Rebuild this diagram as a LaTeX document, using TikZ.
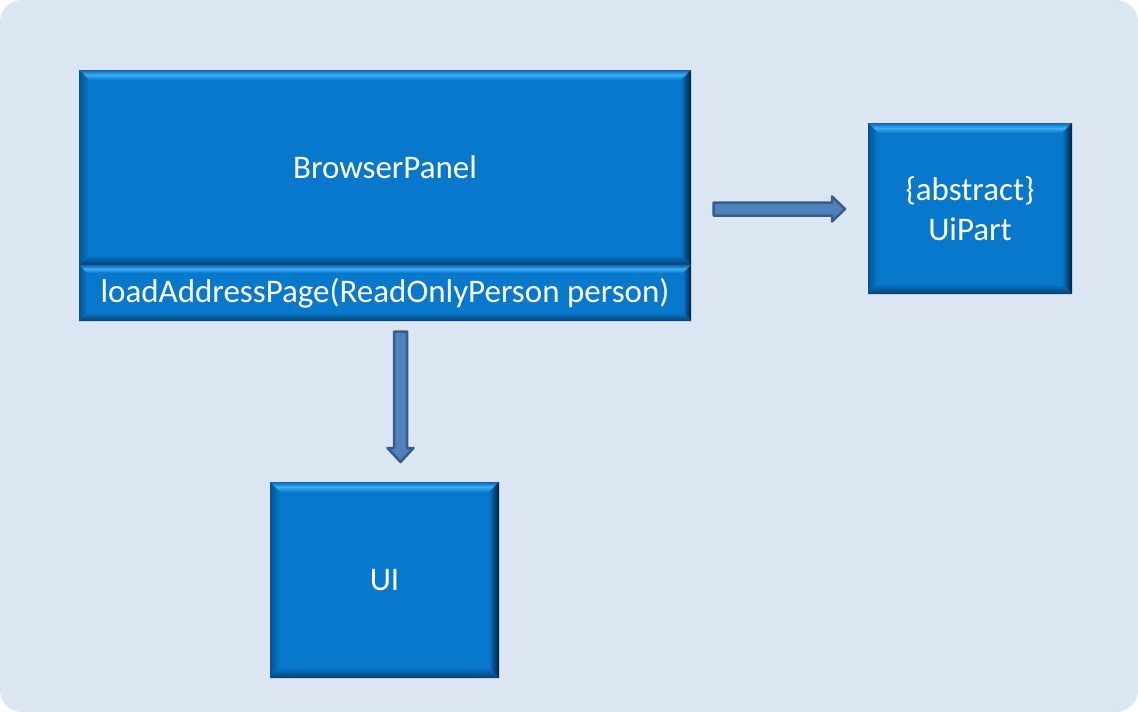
\documentclass[tikz,border=0pt]{standalone}
\usepackage{fontspec}
\setmainfont{Carlito}
\usetikzlibrary{calc}
\definecolor{bgc}{HTML}{DCE6F2}
\definecolor{boxblue}{HTML}{0778CC}
\definecolor{bvtopedge}{HTML}{0A68B4}
\definecolor{bvtoplight}{HTML}{3CACF4}
\definecolor{bvleft}{HTML}{05548F}
\definecolor{bvright}{HTML}{031F3A}
\definecolor{bvbottom}{HTML}{04406F}
\definecolor{arrfill}{HTML}{4F81BD}
\definecolor{arrline}{HTML}{385D8A}
\newcommand\mybevel[2]{%
  \shade[top color=bvtopedge, bottom color=boxblue, middle color=bvtoplight]
    (#1.north west) -- (#1.north east) -- ($(#1.north east)+(-#2,#2)$) -- ($(#1.north west)+(#2,#2)$) -- cycle;
  \shade[left color=bvleft, right color=boxblue]
    (#1.north west) -- ($(#1.north west)+(#2,#2)$) -- ($(#1.south west)+(#2,-#2)$) -- (#1.south west) -- cycle;
  \shade[left color=boxblue, right color=bvright]
    (#1.north east) -- (#1.south east) -- ($(#1.south east)+(-#2,-#2)$) -- ($(#1.north east)+(-#2,#2)$) -- cycle;
  \shade[top color=boxblue, bottom color=bvbottom]
    (#1.south west) -- (#1.south east) -- ($(#1.south east)+(-#2,-#2)$) -- ($(#1.south west)+(#2,-#2)$) -- cycle;
}
\begin{document}
\begin{tikzpicture}[x=1pt,y=-1pt,
  umlbox/.style={rectangle, fill=boxblue, inner sep=0pt, outer sep=0pt,
    text=white, font=\fontsize{33}{40}\selectfont, align=center},
  blockarrow/.style={fill=arrfill, draw=arrline, line width=2.5pt, line join=round}]
\fill[white] (0,0) rectangle (1138,712);
\useasboundingbox (0,0) rectangle (1138,712);
\fill[bgc, rounded corners=22pt] (0,0) rectangle (1138,712);

\node[umlbox, minimum width=612pt, minimum height=195pt] (bp) at (385,167.5) {};
\node[umlbox, minimum width=612pt, minimum height=56pt] (bpm) at (385,293) {};
\node[umlbox, minimum width=204pt, minimum height=171pt] (uip) at (970,208.5) {};
\node[umlbox, minimum width=229pt, minimum height=196pt] (ui) at (384.5,580) {};

\mybevel{bp}{10}
\mybevel{bpm}{8}
\mybevel{uip}{10}
\mybevel{ui}{10}

\node[umlbox, fill=none] (bpt) at (bp.center) {BrowserPanel};
\node[umlbox, fill=none] (bpmt) at (bpm.center) {loadAddressPage(ReadOnlyPerson person)};
\node[umlbox, fill=none] (uipt) at (uip.center) {\{abstract\}\\UiPart};
\node[umlbox, fill=none] (uit) at (ui.center) {UI};

% right arrow from BrowserPanel to UiPart
\coordinate (a1s) at ($(bp.east)!0!(uip.west) + (22.5,41.5)$);
\coordinate (a1e) at ($(uip.west |- a1s) + (-23,0)$);
\draw[blockarrow] ($(a1s)+(0,-6.5)$) -- ($(a1e)+(-13,-6.5)$) -- ($(a1e)+(-13,-12.5)$)
  -- (a1e) -- ($(a1e)+(-13,12.5)$) -- ($(a1e)+(-13,6.5)$) -- ($(a1s)+(0,6.5)$) -- cycle;

% down arrow from BrowserPanel to UI
\coordinate (a2s) at ($(bpm.south) + (15.5,10.5)$);
\coordinate (a2e) at ($(ui.north -| a2s) + (0,-20)$);
\draw[blockarrow] ($(a2s)+(-6.5,0)$) -- ($(a2e)+(-6.5,-14)$) -- ($(a2e)+(-13,-14)$)
  -- (a2e) -- ($(a2e)+(13,-14)$) -- ($(a2e)+(6.5,-14)$) -- ($(a2s)+(6.5,0)$) -- cycle;
\end{tikzpicture}
\end{document}
